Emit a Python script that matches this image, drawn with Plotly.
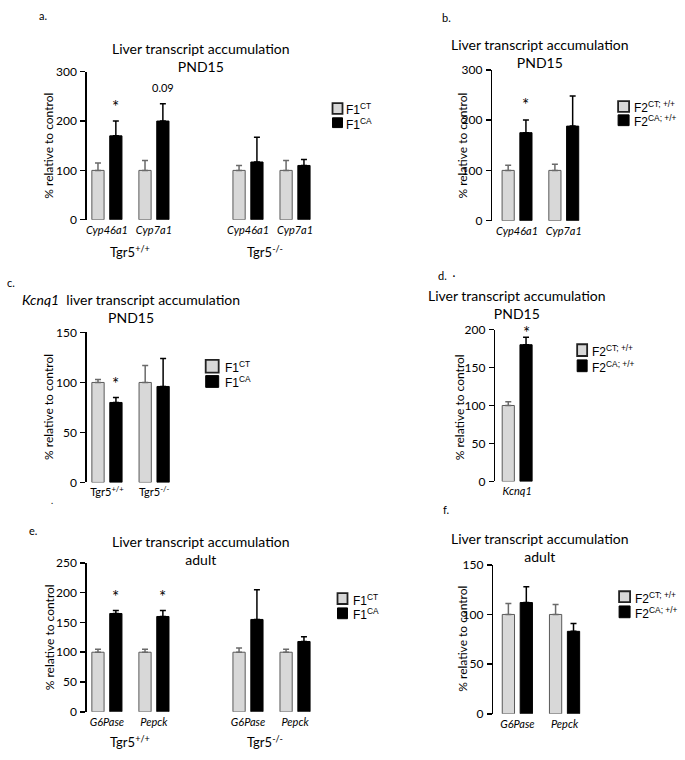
import plotly.graph_objects as go

W, H = 685, 760

# ---------------- data ----------------
# panel a : PND15, F1, Tgr5+/+ and Tgr5-/-
a_genes = ["Cyp46a1", "Cyp7a1", "Cyp46a1", "Cyp7a1"]
a_slots = [0, 1, 3, 4]
a_groups = ["Tgr5<sup>+/+</sup>", "Tgr5<sup>-/-</sup>"]
a_ct = [100, 100, 100, 100]
a_ct_err = [15, 20, 10, 20]
a_ca = [170, 200, 117, 110]
a_ca_err = [30, 35, 50, 12]

# panel b : PND15, F2
b_genes = ["Cyp46a1", "Cyp7a1"]
b_slots = [0, 1]
b_ct = [100, 100]
b_ct_err = [10, 12]
b_ca = [175, 188]
b_ca_err = [25, 60]

# panel c : Kcnq1 PND15, F1
c_cats = ["Tgr5<sup>+/+</sup>", "Tgr5<sup>-/-</sup>"]
c_slots = [0, 1]
c_ct = [100, 100]
c_ct_err = [3, 17]
c_ca = [80, 96]
c_ca_err = [5, 28]

# panel d : Kcnq1 PND15, F2
d_genes = ["Kcnq1"]
d_slots = [0]
d_ct = [100]
d_ct_err = [5]
d_ca = [180]
d_ca_err = [10]

# panel e : adult, F1
e_genes = ["G6Pase", "Pepck", "G6Pase", "Pepck"]
e_slots = [0, 1, 3, 4]
e_groups = ["Tgr5<sup>+/+</sup>", "Tgr5<sup>-/-</sup>"]
e_ct = [100, 100, 100, 100]
e_ct_err = [5, 5, 7, 5]
e_ca = [165, 160, 155, 118]
e_ca_err = [5, 10, 50, 8]

# panel f : adult, F2
f_genes = ["G6Pase", "Pepck"]
f_slots = [0, 1]
f_ct = [100, 100]
f_ct_err = [11, 10]
f_ca = [112, 83]
f_ca_err = [16, 8]

f1_labels = ["F1<sup>CT</sup>", "F1<sup>CA</sup>"]
f2_labels = ["F2<sup>CT; +/+</sup>", "F2<sup>CA; +/+</sup>"]

# ---------------- style ----------------
FONT = "Lato"
LEG_FONT = "Liberation Sans"
GRAY = "#d8d8d8"
GRAY_LINE = "#5a5a5a"
BW = 0.26
OFF_CT = -0.32
OFF_CA = 0.06

def X(p):
    return p / W

def Y(p):
    return 1 - p / H

panels = [
    dict(slots=a_slots, ticks=[f"<i>{g}</i>" for g in a_genes], ct=a_ct, cte=a_ct_err, ca=a_ca, cae=a_ca_err,
         xd=(86, 318), yd=(65, 216), xr=(-0.426, 4.5), yr=(0, 300), dt=100,
         title="Liver transcript accumulation<br>PND15", tpos=(200, 50),
         ytitle=(48, 140.5), label=("a.", 42, 8), groups=a_groups, gx=[0.5, 3.36], gy=248,
         legend=(f1_labels, 332, 342, [(97, 108), (112, 122)], 344),
         sig=[("*", 0, 2, 17), ("0.09", 1, 8, 11)]),
    dict(slots=b_slots, ticks=[f"<i>{g}</i>" for g in b_genes], ct=b_ct, cte=b_ct_err, ca=b_ca, cae=b_ca_err,
         xd=(492, 587), yd=(63, 217), xr=(-0.53, 1.5), yr=(0, 300), dt=100,
         title="Liver transcript accumulation<br>PND15", tpos=(540, 46),
         ytitle=(462, 140), label=("b.", 446, 10), groups=None,
         legend=(f2_labels, 618, 629, [(95, 106), (109, 120)], 632),
         sig=[("*", 0, 3, 17)]),
    dict(slots=c_slots, ticks=c_cats, ct=c_ct, cte=c_ct_err, ca=c_ca, cae=c_ca_err,
         xd=(86, 177), yd=(331, 484), xr=(-0.426, 1.5), yr=(0, 150), dt=50,
         title="<i>Kcnq1</i>  liver transcript accumulation<br>PND15", tpos=(130, 307),
         ytitle=(48, 407), label=("c.", 10, 280), groups=None,
         legend=(f1_labels, 205, 218, [(359, 372), (375, 387)], 222),
         sig=[("*", 0, 1, 17)]),
    dict(slots=d_slots, ticks=[f"<i>{g}</i>" for g in d_genes], ct=d_ct, cte=d_ct_err, ca=d_ca, cae=d_ca_err,
         xd=(495, 545), yd=(328, 483), xr=(-0.468, 0.6), yr=(0, 200), dt=50,
         title="Liver transcript accumulation<br>PND15", tpos=(517, 302),
         ytitle=(460, 407), label=("d.  ·", 446, 273), groups=None,
         legend=(f2_labels, 577, 587, [(343, 355), (359, 371)], 590),
         sig=[("*", 0, -8, 17)]),
    dict(slots=e_slots, ticks=[f"<i>{g}</i>" for g in e_genes], ct=e_ct, cte=e_ct_err, ca=e_ca, cae=e_ca_err,
         xd=(86, 318), yd=(566, 718), xr=(-0.426, 4.5), yr=(0, 250), dt=50,
         title="Liver transcript accumulation<br>adult", tpos=(200, 553),
         ytitle=(48, 642), label=("e.", 32, 533), groups=e_groups, gx=[0.5, 3.36], gy=748,
         legend=(f1_labels, 337, 347, [(597, 608), (612, 623)], 351),
         sig=[("*", 0, 2, 17), ("*", 1, 2, 17)]),
    dict(slots=f_slots, ticks=[f"<i>{g}</i>" for g in f_genes], ct=f_ct, cte=f_ct_err, ca=f_ca, cae=f_ca_err,
         xd=(493, 588), yd=(568, 720), xr=(-0.51, 1.5), yr=(0, 150), dt=50,
         title="Liver transcript accumulation<br>adult", tpos=(540, 550),
         ytitle=(462, 643), label=("f.", 446, 512), groups=None,
         legend=(f2_labels, 619, 630, [(595, 606), (610, 622)], 633),
         sig=[]),
]

fig = go.Figure()
annotations = []
shapes = []
layout = {}

for i, p in enumerate(panels, start=1):
    xa = "x" if i == 1 else f"x{i}"
    ya = "y" if i == 1 else f"y{i}"
    xkey = "xaxis" if i == 1 else f"xaxis{i}"
    ykey = "yaxis" if i == 1 else f"yaxis{i}"

    fig.add_trace(go.Bar(
        x=p["slots"], y=p["ct"], xaxis=xa, yaxis=ya, width=BW, offset=OFF_CT,
        marker=dict(color=GRAY, line=dict(color=GRAY_LINE, width=1)),
        error_y=dict(type="data", array=p["cte"], arrayminus=[0] * len(p["cte"]), symmetric=False,
                     color="#6a6a6a", thickness=1.5, width=3),
        showlegend=False, name="CT"))
    fig.add_trace(go.Bar(
        x=p["slots"], y=p["ca"], xaxis=xa, yaxis=ya, width=BW, offset=OFF_CA,
        marker=dict(color="black", line=dict(color="black", width=1)),
        error_y=dict(type="data", array=p["cae"], arrayminus=[0] * len(p["cae"]), symmetric=False,
                     color="black", thickness=1.5, width=3),
        showlegend=False, name="CA"))

    layout[xkey] = dict(domain=[X(p["xd"][0]), X(p["xd"][1])], range=list(p["xr"]), anchor=ya,
                        showline=False, showgrid=False, zeroline=False, ticks="",
                        tickmode="array", tickvals=p["slots"], ticktext=p["ticks"],
                        tickfont=dict(family=FONT, size=11, color="black"), ticklabelstandoff=2,
                        fixedrange=True)
    layout[ykey] = dict(domain=[Y(p["yd"][1]), Y(p["yd"][0])], range=list(p["yr"]), anchor=xa,
                        showline=True, linecolor="black", linewidth=1.5, showgrid=False, zeroline=False,
                        ticks="outside", ticklen=5, tickwidth=1.5, tickcolor="black", dtick=p["dt"],
                        tick0=0, tickfont=dict(family=FONT, size=12, color="black"),
                        ticklabelstandoff=1, fixedrange=True)

    # title
    annotations.append(dict(text=p["title"], x=X(p["tpos"][0]), y=Y(p["tpos"][1]), xref="paper", yref="paper",
                            xanchor="center", yanchor="middle", showarrow=False,
                            font=dict(family=FONT, size=14, color="black")))
    # y axis title
    annotations.append(dict(text="% relative to control", x=X(p["ytitle"][0]), y=Y(p["ytitle"][1]),
                            xref="paper", yref="paper", textangle=-90, xanchor="center", yanchor="middle",
                            showarrow=False, font=dict(family=FONT, size=12, color="black")))
    # panel label
    annotations.append(dict(text=p["label"][0], x=X(p["label"][1]), y=Y(p["label"][2]), xref="paper",
                            yref="paper", xanchor="center", yanchor="middle", showarrow=False,
                            font=dict(family=FONT, size=11, color="black")))
    # group labels
    if p["groups"]:
        for g, gxv in zip(p["groups"], p["gx"]):
            annotations.append(dict(text=g, x=gxv, y=Y(p["gy"]), xref=xa, yref="paper",
                                    xanchor="center", yanchor="middle", showarrow=False,
                                    font=dict(family=FONT, size=13, color="black")))
    # significance marks
    for txt, k, shift, fs in p["sig"]:
        annotations.append(dict(text=txt, x=p["slots"][k] + OFF_CA + BW / 2, y=p["ca"][k] + p["cae"][k],
                                xref=xa, yref=ya, xanchor="center", yanchor="bottom", yshift=shift,
                                showarrow=False, font=dict(family=FONT, size=fs, color="black")))
    # legend
    labels, lx0, lx1, boxes, tx = p["legend"]
    for j, (lab, (by0, by1)) in enumerate(zip(labels, boxes)):
        if j == 0:
            shapes.append(dict(type="rect", xref="paper", yref="paper", x0=X(lx0), x1=X(lx1), y0=Y(by1), y1=Y(by0),
                               fillcolor=GRAY, line=dict(color="#222222", width=1.8)))
        else:
            shapes.append(dict(type="rect", xref="paper", yref="paper", x0=X(lx0), x1=X(lx1), y0=Y(by1), y1=Y(by0),
                               fillcolor="black", line=dict(color="black", width=1)))
        annotations.append(dict(text=lab, x=X(tx), y=Y((by0 + by1) / 2 + 1), xref="paper", yref="paper",
                                xanchor="left", yanchor="middle", showarrow=False,
                                font=dict(family=LEG_FONT, size=12, color="black")))

# stray dot under panel c
annotations.append(dict(text=".", x=X(48), y=Y(510), xref="paper", yref="paper", showarrow=False,
                        font=dict(family=FONT, size=9, color="black")))

fig.update_layout(
    width=W, height=H, margin=dict(l=0, r=0, t=0, b=0),
    paper_bgcolor="white", plot_bgcolor="white",
    barmode="overlay", annotations=annotations, shapes=shapes, **layout,
)

fig.write_html("out.html", config={"displayModeBar": False, "staticPlot": True},
               post_script="document.body.style.margin='0';document.body.style.overflow='hidden';")
